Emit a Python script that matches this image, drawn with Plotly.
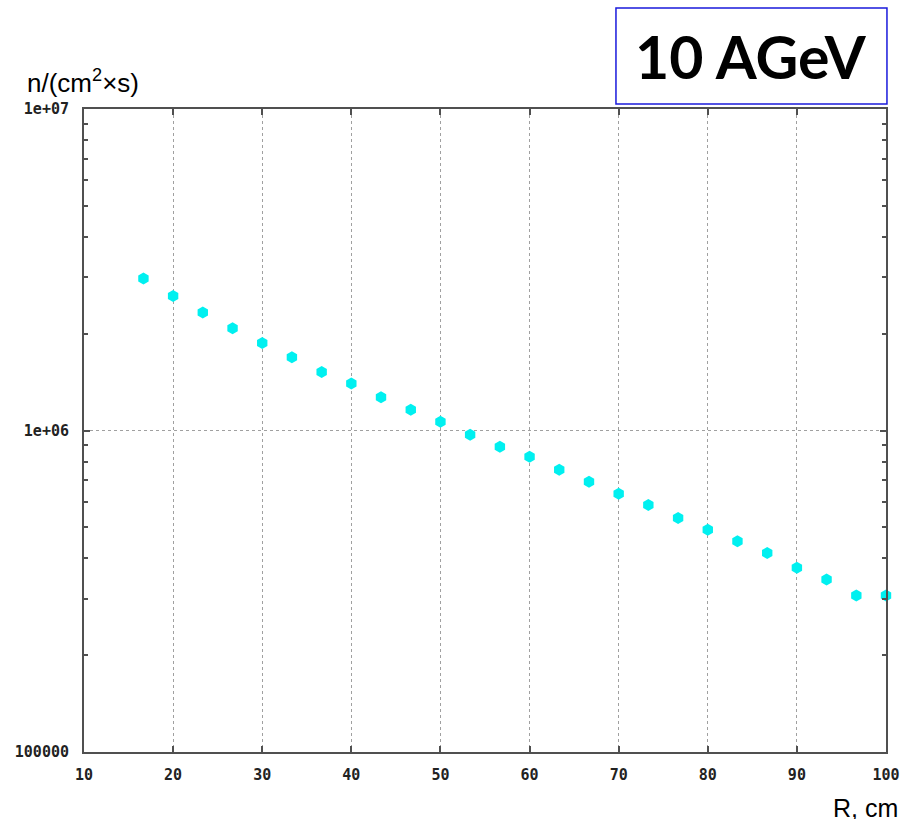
import plotly.graph_objects as go

r_cm = [16.67, 20.0, 23.33, 26.67, 30.0, 33.33, 36.67, 40.0, 43.33, 46.67,
        50.0, 53.33, 56.67, 60.0, 63.33, 66.67, 70.0, 73.33, 76.67, 80.0,
        83.33, 86.67, 90.0, 93.33, 96.67, 100.0]
flux = [2.97e6, 2.62e6, 2.33e6, 2.08e6, 1.87e6, 1.69e6, 1.52e6, 1.40e6, 1.27e6, 1.16e6,
        1.065e6, 9.70e5, 8.90e5, 8.29e5, 7.55e5, 6.93e5, 6.36e5, 5.87e5, 5.34e5, 4.91e5,
        4.52e5, 4.16e5, 3.74e5, 3.44e5, 3.07e5, 3.07e5]
x_ticks = [10, 20, 30, 40, 50, 60, 70, 80, 90, 100]
y_ticks = [1e5, 1e6, 1e7]
y_tick_text = ["100000", "1e+06", "1e+07"]
y_minor = [2e5, 3e5, 4e5, 5e5, 6e5, 7e5, 8e5, 9e5, 2e6, 3e6, 4e6, 5e6, 6e6, 7e6, 8e6, 9e6]

fig = go.Figure()
fig.add_trace(go.Scatter(
    x=r_cm, y=flux, mode="markers",
    marker=dict(symbol="hexagon", size=12, color="#00F0F0", line=dict(width=0)),
    showlegend=False, cliponaxis=False,
))

tickfont = dict(family="DejaVu Sans Mono", size=15, color="#222222", weight="bold")
axcol = "#505050"
fig.update_layout(
    width=908, height=819,
    margin=dict(l=84, r=22, t=109, b=67, autoexpand=False),
    paper_bgcolor="white", plot_bgcolor="white",
    xaxis=dict(
        range=[10, 100], tickvals=x_ticks, ticktext=[str(v) for v in x_ticks],
        ticks="inside", ticklen=6, tickwidth=1.5, tickcolor=axcol,
        showline=True, linecolor=axcol, linewidth=2, mirror="ticks",
        showgrid=True, gridcolor="#a0a0a0", griddash="dot", gridwidth=1,
        zeroline=False, tickfont=tickfont, ticklabelstandoff=8, automargin=False,
    ),
    yaxis=dict(
        type="log", range=[5, 7], tickvals=y_ticks, ticktext=y_tick_text,
        ticks="inside", ticklen=6, tickwidth=1.5, tickcolor=axcol,
        showline=True, linecolor=axcol, linewidth=2, mirror="ticks",
        showgrid=True, gridcolor="#a0a0a0", griddash="dot", gridwidth=1,
        zeroline=False, tickfont=tickfont, ticklabelstandoff=10, automargin=False,
        minor=dict(ticks="inside", ticklen=4, tickwidth=1.5, tickcolor=axcol,
                   tickvals=y_minor, showgrid=False),
    ),
    shapes=[dict(type="rect", xref="paper", yref="paper",
                 x0=0.6633, x1=1.0012, y0=1.0078, y1=1.157,
                 line=dict(color="#1a1adc", width=1.5), fillcolor="white")],
    annotations=[
        dict(text="<b>10 AGeV</b>", xref="paper", yref="paper", x=0.832, y=1.082,
             xanchor="center", yanchor="middle", showarrow=False,
             font=dict(family="Lato", size=59, color="black")),
        dict(text="n/(cm<sup>2</sup>×s)", xref="paper", yref="paper", x=-0.0736, y=1.042,
             xanchor="left", yanchor="middle", showarrow=False,
             font=dict(family="Liberation Sans", size=26, color="black")),
        dict(text="R, cm", xref="paper", yref="paper", x=1.017, y=-0.0871,
             xanchor="right", yanchor="middle", showarrow=False,
             font=dict(family="Liberation Sans", size=25, color="black")),
    ],
)
fig.write_html("out.html", config={"displayModeBar": False},
               post_script="document.body.style.margin='0';document.body.style.overflow='hidden';")
